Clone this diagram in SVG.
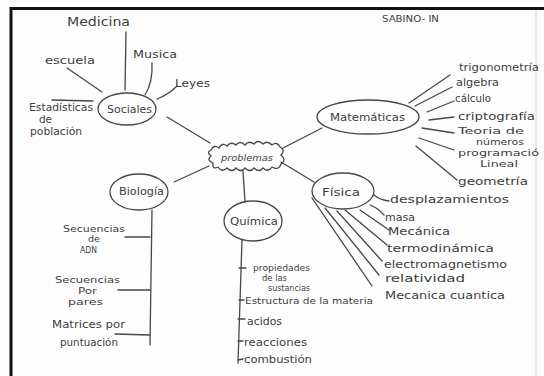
<svg xmlns="http://www.w3.org/2000/svg" width="544" height="376" viewBox="0 0 544 376">
  <defs>
    <style>
      .frame { fill: none; stroke: #111; }
      .ln { fill: none; stroke: #474747; stroke-width: 1.3; stroke-linecap: round; }
      .node { fill: none; stroke: #474747; stroke-width: 1.3; }
      text { font-family: "DejaVu Sans", "Liberation Sans", sans-serif; fill: #3d3d3d; }
      .t13 { font-size: 12px; }
      .t12 { font-size: 11px; }
      .t11 { font-size: 10px; }
      .t10 { font-size: 9px; }
      .t9 { font-size: 8.5px; }
    </style>
  </defs>

  <!-- paper and frame -->
  <rect x="0" y="0" width="544" height="376" fill="#fdfdfd"/>
  <path class="frame" d="M11,376 L11,8.5 L544,8.5" stroke-width="3"/>
  <line x1="536" y1="10" x2="536" y2="376" stroke="#d8d8d8" stroke-width="1"/>

  <text class="t9" x="382" y="22" textLength="57" lengthAdjust="spacingAndGlyphs">SABINO- IN</text>

  <!-- connectors -->
  <g id="connectors">
    <!-- Sociales -->
    <path class="ln" d="M126,32 L125,90"/>
    <path class="ln" d="M67,68 L102,92"/>
    <path class="ln" d="M152,63 Q153,82 145,95"/>
    <path class="ln" d="M177,86 Q168,95 157,99"/>
    <path class="ln" d="M52,100 L93,101"/>
    <path class="ln" d="M167,117 L210,143"/>
    <!-- hub links -->
    <path class="ln" d="M283,148 L322,128"/>
    <path class="ln" d="M281,162 L314,182"/>
    <path class="ln" d="M243,171 L245,202"/>
    <path class="ln" d="M209,166 L174,182"/>
    <!-- Matemáticas -->
    <path class="ln" d="M409,103 L450,75"/>
    <path class="ln" d="M415,106 L452,87"/>
    <path class="ln" d="M427,112 L454,101"/>
    <path class="ln" d="M429,120 L454,117"/>
    <path class="ln" d="M422,128 L454,133"/>
    <path class="ln" d="M419,138 L454,150"/>
    <path class="ln" d="M416,146 L457,180"/>
    <!-- Física -->
    <path class="ln" d="M374,195 Q380,200 389,201"/>
    <path class="ln" d="M370,205 Q378,208 384,215"/>
    <path class="ln" d="M360,210 L389,230"/>
    <path class="ln" d="M345,210 L387,245"/>
    <path class="ln" d="M337,211 L382,261"/>
    <path class="ln" d="M325,208 L379,275"/>
    <path class="ln" d="M312,198 L372,286"/>
    <!-- Química -->
    <path class="ln" d="M242,240 L238,363"/>
    <path class="ln" d="M239,268 L246,268"/>
    <path class="ln" d="M239,300 L244,300"/>
    <path class="ln" d="M238,319 L245,319"/>
    <path class="ln" d="M238,341 L243,341"/>
    <path class="ln" d="M238,360 L243,359"/>
    <!-- Biología -->
    <path class="ln" d="M152,210 L150,345"/>
    <path class="ln" d="M125,237 L150,237"/>
    <path class="ln" d="M118,290 L150,290"/>
    <path class="ln" d="M115,334 L150,335"/>
  </g>

  <!-- central idea -->
  <g id="problemas">
    <path class="node" d="M211,150 Q214,144 219,148 Q222,142 227,146 Q231,141 236,145 Q240,140 245,145 Q249,140 254,144 Q258,139 263,144 Q267,140 272,145 Q277,141 280,147 Q286,150 281,155 Q287,160 281,164 Q279,171 272,167 Q268,173 263,168 Q259,173 254,168 Q250,173 245,168 Q241,173 236,168 Q232,173 227,168 Q222,173 218,167 Q212,170 213,163 Q206,160 211,156 Q206,152 211,150 Z"/>
    <text class="t10" x="221" y="161" font-style="italic" textLength="52" lengthAdjust="spacingAndGlyphs">problemas</text>
  </g>

  <g id="sociales">
    <ellipse class="node" cx="127" cy="109" rx="29" ry="16"/>
    <text class="t12" x="107" y="113" textLength="45" lengthAdjust="spacingAndGlyphs">Sociales</text>
    <text class="t13" x="67" y="26" textLength="63" lengthAdjust="spacingAndGlyphs">Medicina</text>
    <text class="t12" x="45" y="64" textLength="50" lengthAdjust="spacingAndGlyphs">escuela</text>
    <text class="t12" x="133" y="58" textLength="44" lengthAdjust="spacingAndGlyphs">Musica</text>
    <text class="t12" x="175" y="87" textLength="35" lengthAdjust="spacingAndGlyphs">Leyes</text>
    <text class="t11" x="29" y="111" textLength="64" lengthAdjust="spacingAndGlyphs">Estadísticas</text>
    <text class="t11" x="39" y="123" textLength="13" lengthAdjust="spacingAndGlyphs">de</text>
    <text class="t11" x="30" y="135" textLength="52" lengthAdjust="spacingAndGlyphs">población</text>
  </g>

  <g id="matematicas">
    <ellipse class="node" cx="368" cy="117" rx="51" ry="17"/>
    <text class="t12" x="330" y="121" textLength="75" lengthAdjust="spacingAndGlyphs">Matemáticas</text>
    <text class="t12" x="459" y="71" textLength="80" lengthAdjust="spacingAndGlyphs">trigonometría</text>
    <text class="t12" x="456" y="86" textLength="43" lengthAdjust="spacingAndGlyphs">algebra</text>
    <text class="t12" x="455" y="102" textLength="36" lengthAdjust="spacingAndGlyphs">cálculo</text>
    <text class="t12" x="458" y="120" textLength="77" lengthAdjust="spacingAndGlyphs">criptografía</text>
    <text class="t10" x="458" y="134" textLength="66" lengthAdjust="spacingAndGlyphs">Teoria de</text>
    <text class="t10" x="476" y="145" textLength="48" lengthAdjust="spacingAndGlyphs">números</text>
    <text class="t10" x="458" y="156" textLength="81" lengthAdjust="spacingAndGlyphs">programació</text>
    <text class="t10" x="480" y="167" textLength="38" lengthAdjust="spacingAndGlyphs">Lineal</text>
    <text class="t12" x="458" y="185" textLength="70" lengthAdjust="spacingAndGlyphs">geometría</text>
  </g>

  <g id="fisica">
    <ellipse class="node" cx="343" cy="191" rx="31" ry="18"/>
    <text class="t12" x="322" y="196" textLength="38" lengthAdjust="spacingAndGlyphs">Física</text>
    <text class="t12" x="390" y="203" textLength="119" lengthAdjust="spacingAndGlyphs">desplazamientos</text>
    <text class="t12" x="385" y="221" textLength="30" lengthAdjust="spacingAndGlyphs">masa</text>
    <text class="t11" x="388" y="235" textLength="62" lengthAdjust="spacingAndGlyphs">Mecánica</text>
    <text class="t12" x="387" y="252" textLength="107" lengthAdjust="spacingAndGlyphs">termodinámica</text>
    <text class="t12" x="384" y="268" textLength="123" lengthAdjust="spacingAndGlyphs">electromagnetismo</text>
    <text class="t12" x="385" y="282" textLength="80" lengthAdjust="spacingAndGlyphs">relatividad</text>
    <text class="t11" x="385" y="299" textLength="120" lengthAdjust="spacingAndGlyphs">Mecanica cuantica</text>
  </g>

  <g id="quimica">
    <ellipse class="node" cx="253" cy="221" rx="29" ry="20"/>
    <text class="t12" x="230" y="225" textLength="48" lengthAdjust="spacingAndGlyphs">Química</text>
    <text class="t10" x="253" y="271" textLength="57" lengthAdjust="spacingAndGlyphs">propiedades</text>
    <text class="t10" x="262" y="281" textLength="25" lengthAdjust="spacingAndGlyphs">de las</text>
    <text class="t9" x="268" y="291" textLength="42" lengthAdjust="spacingAndGlyphs">sustancias</text>
    <text class="t10" x="245" y="304" textLength="128" lengthAdjust="spacingAndGlyphs">Estructura de la materia</text>
    <text class="t12" x="247" y="325" textLength="35" lengthAdjust="spacingAndGlyphs">acidos</text>
    <text class="t11" x="244" y="346" textLength="63" lengthAdjust="spacingAndGlyphs">reacciones</text>
    <text class="t11" x="244" y="363" textLength="68" lengthAdjust="spacingAndGlyphs">combustión</text>
  </g>

  <g id="biologia">
    <ellipse class="node" cx="139" cy="192" rx="29" ry="18"/>
    <text class="t11" x="119" y="195" textLength="45" lengthAdjust="spacingAndGlyphs">Biología</text>
    <text class="t10" x="63" y="232" textLength="62" lengthAdjust="spacingAndGlyphs">Secuencias</text>
    <text class="t10" x="88" y="242" textLength="12" lengthAdjust="spacingAndGlyphs">de</text>
    <text class="t10" x="80" y="253" textLength="17" lengthAdjust="spacingAndGlyphs">ADN</text>
    <text class="t10" x="55" y="283" textLength="65" lengthAdjust="spacingAndGlyphs">Secuencias</text>
    <text class="t10" x="78" y="294" textLength="19" lengthAdjust="spacingAndGlyphs">Por</text>
    <text class="t10" x="68" y="305" textLength="35" lengthAdjust="spacingAndGlyphs">pares</text>
    <text class="t11" x="52" y="328" textLength="73" lengthAdjust="spacingAndGlyphs">Matrices por</text>
    <text class="t11" x="60" y="346" textLength="58" lengthAdjust="spacingAndGlyphs">puntuación</text>
  </g>
</svg>
